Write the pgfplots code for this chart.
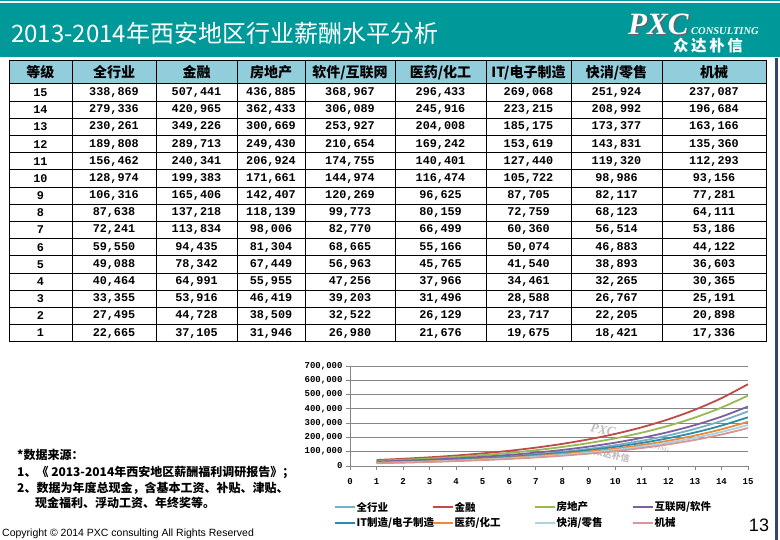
\documentclass[border=0pt]{standalone}
\usepackage{fontspec}
\setmainfont{Liberation Sans}
\newfontfamily\cjk{Noto Sans CJK SC}
\newfontfamily\mono{Liberation Mono}
\newfontfamily\serif{Liberation Serif}
\usepackage{pgfplots}
\usepackage{pgfplotstable}
\pgfplotsset{compat=1.18}

\definecolor{cHead}{HTML}{009999}
\definecolor{cTabHead}{HTML}{92CDDC}
\definecolor{cBorder}{HTML}{34466B}
\definecolor{cGrid}{HTML}{868686}
\definecolor{cAll}{HTML}{77AFC6}
\definecolor{cFin}{HTML}{BE4B48}
\definecolor{cRe}{HTML}{98B954}
\definecolor{cSw}{HTML}{7D60A0}
\definecolor{cIt}{HTML}{2E8CA6}
\definecolor{cMed}{HTML}{EB8A3A}
\definecolor{cFmcg}{HTML}{A8D4E4}
\definecolor{cMach}{HTML}{D99694}

\newcommand\num[1]{\pgfmathprintnumber[fixed,precision=0,1000 sep={,},assume math mode=true]{#1}}

% chart values
\pgfplotstableread{
lv all fin re sw it med fmcg mach
1 25600 41900 36000 30400 24900 22600 21000 19400
2 31000 50500 43400 36700 30000 27300 25300 23400
3 37600 60800 52400 44200 36200 32900 30500 28200
4 45600 73300 63100 53300 43700 39600 36800 34000
5 55400 88400 76100 64300 52600 47800 44300 41000
6 67200 106500 91700 77500 63400 57600 53400 49400
7 81500 128400 110600 93400 76500 69400 64400 59600
8 98900 154800 133300 112500 92200 83700 77700 71800
9 119900 186600 160600 135700 111100 100900 93600 86600
10 145500 224900 193600 163500 133900 121600 112800 104300
11 176500 271100 233400 197100 161500 146600 136000 125800
12 214100 326800 281400 237600 194600 176700 164000 151600
13 259700 393900 339200 286400 234600 213000 197600 182700
14 315100 474800 408800 345300 282800 256700 238300 220300
15 382200 572400 492800 416200 340900 309400 287200 265500
}\chartdata

\begin{document}
\begin{tikzpicture}
\useasboundingbox (0,0) rectangle (780pt,540pt);
\fill[white] (0,0) rectangle (780pt,540pt);

\begin{scope}[x=1pt,y=-1pt,yshift=540pt]
% header band
\fill[cHead] (0,0) rectangle (780,1.2);
\fill[cHead] (0,3) rectangle (780,57);
\node[anchor=west,text=white,inner sep=0,font=\cjk\fontsize{24}{24}\selectfont] at (11,33) {2013-2014年西安地区行业薪酬水平分析};
% logo
\node[anchor=west,inner sep=0,text=black!60,font=\serif\bfseries\itshape\fontsize{31}{31}\selectfont] at (629.5,25.5) {PXC};
\node[anchor=west,inner sep=0,text=white,font=\serif\bfseries\itshape\fontsize{31}{31}\selectfont] at (628,24) {PXC};
\node[anchor=west,inner sep=0,text=white,font=\serif\bfseries\itshape\fontsize{10.5}{11}\selectfont] at (691,31) {CONSULTING};
\node[anchor=center,inner sep=0,text=white,font=\cjk\bfseries\fontsize{15.5}{16}\selectfont] at (708,46) {众\,达\,朴\,信};

% right border line
\fill[cBorder] (774.5,58) rectangle (777.5,540);

% faint stamp over the chart
\node[rotate=-12,text=black!25,inner sep=0,font=\serif\bfseries\itshape\fontsize{13}{13}\selectfont] at (603,430) {PXC};
\node[rotate=-12,text=black!25,inner sep=0,font=\serif\bfseries\itshape\fontsize{6}{6}\selectfont] at (650,446) {CONSULTING};
\node[rotate=-12,text=black!25,inner sep=0,font=\cjk\bfseries\fontsize{9}{9}\selectfont] at (612,455) {众达朴信};

% table
\fill[cTabHead] (9,61) rectangle (766,84);
\foreach \i in {1,...,14} \draw[line width=0.8pt] (9,{84+17.18*\i}) -- (766,{84+17.18*\i});
\draw[line width=1pt] (9,84) -- (766,84);
\foreach \x in {72,156,237,305,395,486,571,662} \draw[line width=0.8pt] (\x,61) -- (\x,341.7);
\draw[line width=1pt] (9,61) rectangle (766,341.7);

\begin{scope}[every node/.style={inner sep=0,font=\cjk\bfseries\fontsize{14}{14}\selectfont}]
\node at (40.5,72.5) {等级};
\node at (114,72.5) {全行业};
\node at (196.5,72.5) {金融};
\node at (271,72.5) {房地产};
\node at (350,72.5) {软件/互联网};
\node at (440.5,72.5) {医药/化工};
\node at (528.5,72.5) {IT/电子制造};
\node at (616.5,72.5) {快消/零售};
\node at (714,72.5) {机械};
\end{scope}

\begin{scope}[every node/.style={inner sep=0,font=\mono\bfseries\fontsize{11.8}{12}\selectfont}]
\foreach \lv/\a/\b/\c/\d/\e/\f/\g/\h [count=\i from 0] in {
15/338869/507441/436885/368967/296433/269068/251924/237087,
14/279336/420965/362433/306089/245916/223215/208992/196684,
13/230261/349226/300669/253927/204008/185175/173377/163166,
12/189808/289713/249430/210654/169242/153619/143831/135360,
11/156462/240341/206924/174755/140401/127440/119320/112293,
10/128974/199383/171661/144974/116474/105722/98986/93156,
9/106316/165406/142407/120269/96625/87705/82117/77281,
8/87638/137218/118139/99773/80159/72759/68123/64111,
7/72241/113834/98006/82770/66499/60360/56514/53186,
6/59550/94435/81304/68665/55166/50074/46883/44122,
5/49088/78342/67449/56963/45765/41540/38893/36603,
4/40464/64991/55955/47256/37966/34461/32265/30365,
3/33355/53916/46419/39203/31496/28588/26767/25191,
2/27495/44728/38509/32522/26129/23717/22205/20898,
1/22665/37105/31946/26980/21676/19675/18421/17336} {
  \pgfmathsetmacro\yy{84+17.18*(\i+0.5)}
  \node at (40.5,\yy) {\lv};
  \node at (114,\yy) {\num{\a}};
  \node at (196.5,\yy) {\num{\b}};
  \node at (271,\yy) {\num{\c}};
  \node at (350,\yy) {\num{\d}};
  \node at (440.5,\yy) {\num{\e}};
  \node at (528.5,\yy) {\num{\f}};
  \node at (616.5,\yy) {\num{\g}};
  \node at (714,\yy) {\num{\h}};
}
\end{scope}

% notes
\begin{scope}[every node/.style={anchor=west,inner sep=0,font=\cjk\bfseries\fontsize{12}{12}\selectfont}]
\node at (17,455) {*数据来源：};
\node at (17,472.5) {1、《 2013-2014年西安地区薪酬福利调研报告》；};
\node at (17,488) {2、数据为年度总现金，含基本工资、补贴、津贴、};
\node at (35,503) {现金福利、浮动工资、年终奖等。};
\end{scope}
\node[anchor=west,inner sep=0,font=\fontsize{10.5}{11}\selectfont] at (2,534) {Copyright © 2014 PXC consulting All Rights Reserved};
\node[anchor=center,inner sep=0,font=\fontsize{18}{18}\selectfont] at (759,525) {13};

% legend of the chart
\begin{scope}[every node/.style={anchor=west,inner sep=0,font=\cjk\bfseries\fontsize{10.5}{11}\selectfont}]
\foreach \x/\y/\c/\t in {335/507/cAll/{全行业}, 433/507/cFin/{金融}, 535/507/cRe/{房地产}, 633/507/cSw/{互联网/软件},
  335/523/cIt/{IT制造/电子制造}, 433/523/cMed/{医药/化工}, 535/523/cFmcg/{快消/零售}, 633/523/cMach/{机械}} {
  \draw[\c,line width=1.8pt] (\x,\y) -- ++(20,0);
  \node at ({\x+21.5},\y) {\t};
}
\end{scope}
\end{scope}

\begin{axis}[
  at={(350pt,74pt)}, anchor=south west, scale only axis,
  width=398pt, height=100pt,
  xmin=0, xmax=15, ymin=0, ymax=700000,
  xtick={0,...,15}, ytick={0,100000,...,700000},
  scaled y ticks=false,
  axis x line=bottom, axis y line=left,
  axis line style={draw=cGrid, line width=0.8pt, -},
  x axis line style={-}, y axis line style={-},
  ymajorgrids, major grid style={draw=cGrid, line width=0.8pt},
  tick style={draw=cGrid, line width=0.8pt},
  tick align=outside, major tick length=4pt,
  ticklabel style={font=\mono\bfseries\fontsize{9}{9}\selectfont},
  yticklabel style={/pgf/number format/.cd, fixed, 1000 sep={,}, assume math mode=true},
  xticklabel style={/pgf/number format/assume math mode=true, yshift=-5pt},
  every axis plot/.append style={smooth, line width=1.8pt, no marks},
]
\addplot[cAll] table[x=lv,y=all] {\chartdata};
\addplot[cFin] table[x=lv,y=fin] {\chartdata};
\addplot[cRe] table[x=lv,y=re] {\chartdata};
\addplot[cSw] table[x=lv,y=sw] {\chartdata};
\addplot[cIt] table[x=lv,y=it] {\chartdata};
\addplot[cMed] table[x=lv,y=med] {\chartdata};
\addplot[cFmcg] table[x=lv,y=fmcg] {\chartdata};
\addplot[cMach] table[x=lv,y=mach] {\chartdata};
\end{axis}
\end{tikzpicture}
\end{document}
